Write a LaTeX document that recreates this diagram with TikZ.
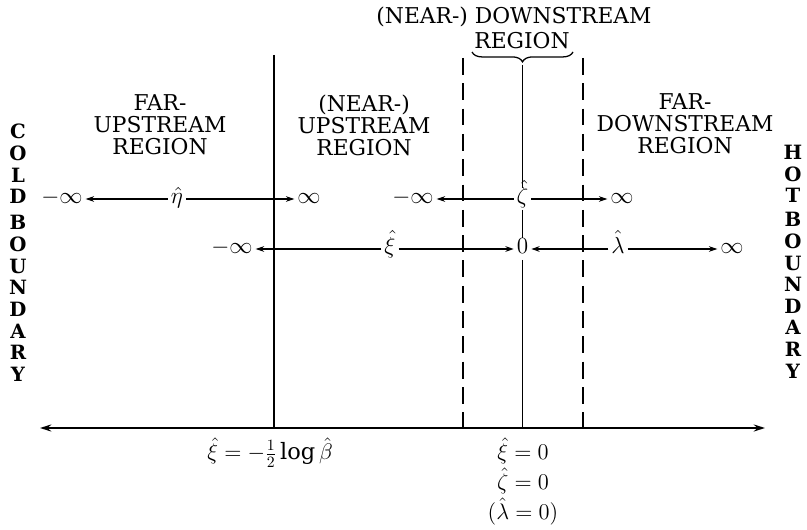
\RequirePackage{fix-cm}
\documentclass[tikz,border=0pt]{standalone}
\usepackage{amsmath,amssymb}
\usepackage{fontspec}
\setmainfont{DejaVu Serif}
\usepackage{tikz}
\usetikzlibrary{arrows.meta,decorations.pathreplacing}

\begin{document}
\begin{tikzpicture}[x=0.025cm, y=-0.025cm,
  region/.style={font=\fontsize{15.5}{15.6}\selectfont, align=center, inner sep=0pt},
  bound/.style={font=\fontsize{14}{15.4}\selectfont\bfseries, align=center, inner sep=0pt, anchor=north},
  lbl/.style={font=\fontsize{16.5}{18}\selectfont, inner sep=2pt, text height=1.6ex, text depth=0.5ex},
  foot/.style={font=\fontsize{16}{21.3}\selectfont, inner sep=0pt, anchor=north, align=center},
  spanarrow/.style={-{Stealth[length=6pt,width=4pt]}, line width=0.75pt},
  wall/.style={line width=1.1pt},
  dashwall/.style={line width=1.1pt, dash pattern=on 12pt off 6pt},
  axis/.style={{Stealth[length=8pt,width=5pt]}-{Stealth[length=8pt,width=5pt]}, line width=1.7pt}]

\useasboundingbox (0,0) rectangle (807,530);

% --- Boundaries (vertical words) ---
\node[bound] (cold) at (18,124) {C\\O\\L\\D\\[3pt]B\\O\\U\\N\\D\\A\\R\\Y};
\node[bound] (hot) at (793,145) {H\\O\\T\\[1.5pt]B\\O\\U\\N\\D\\A\\R\\Y};

% --- Region names ---
\node[region] (farUp) at (160,125) {FAR-\\UPSTREAM\\REGION};
\node[region] (nearUp) at (364,125) {(NEAR-)\\UPSTREAM\\REGION};
\node[region] (farDown) at (685,124) {FAR-\\DOWNSTREAM\\REGION};
\node[region] (nearDown) at (514,17) {(NEAR-) DOWNSTREAM};
\node[region] (nearDownR) at (522,41) {REGION};

% Brace under the downstream region
\draw[line width=0.9pt, decorate, decoration={brace, amplitude=7pt, mirror}] (472,52) -- (573,52);
\coordinate (braceTip) at (522.5,65);

% --- Axis and dividing lines ---
\coordinate (axL) at (40,428);
\coordinate (axR) at (765,428);
\draw[axis] (axL) -- (axR);

\coordinate (wallTop) at (274,55);
\draw[wall] (wallTop) -- (wallTop |- axL);
\coordinate (dashL) at (463,58);
\coordinate (dashR) at (583,58);
\draw[dashwall] (dashL) -- (dashL |- axL);
\draw[dashwall] (dashR) -- (dashR |- axL);

% --- First row: eta and zeta ---
\node[lbl] (etaL) at (62,199) {$-\infty$};
\node[lbl] (eta) at (177,199) {$\hat{\eta}$};
\node[lbl] (etaR) at (309,199) {$\infty$};
\draw[spanarrow] (eta) -- (etaL);
\draw[spanarrow] (eta) -- (etaR);

\node[lbl] (zetaL) at (413,199) {$-\infty$};
\node[lbl] (zeta) at (522.5,199) {$\hat{\zeta}$};
\node[lbl] (zetaR) at (622,199) {$\infty$};
\draw[spanarrow] (zeta) -- (zetaL);
\draw[spanarrow] (zeta) -- (zetaR);

% --- Second row: xi and lambda ---
\node[lbl] (xiL) at (232,249) {$-\infty$};
\node[lbl] (xi) at (390,249) {$\hat{\xi}$};
\node[lbl] (zero) at (522.5,249) {$0$};
\node[lbl] (lam) at (618,249) {$\hat{\lambda}$};
\node[lbl] (lamR) at (732,249) {$\infty$};
\draw[spanarrow] (xi) -- (xiL);
\draw[spanarrow] (xi) -- (zero);
\draw[spanarrow] (lam) -- (zero);
\draw[spanarrow] (lam) -- (lamR);

% Centre line through zeta and 0
\draw[wall] (braceTip) -- (zeta);
\draw[wall] (zeta) -- (zero);
\draw[wall] (zero) -- (zero |- axL);

% --- Labels under the axis ---
\node[foot] (wallLbl) at (270,438) {$\hat{\xi} = -\tfrac{1}{2}\log\hat{\beta}$};
\node[foot] (originLbl) at (523,438) {$\hat{\xi} = 0$\\$\hat{\zeta} = 0$\\$(\hat{\lambda} = 0)$};
\end{tikzpicture}
\end{document}
